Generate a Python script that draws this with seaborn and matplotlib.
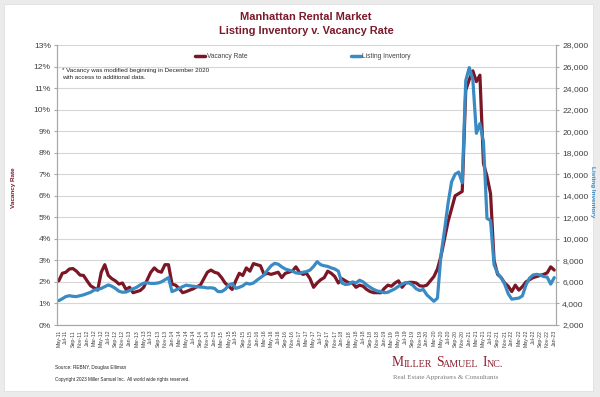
import numpy as np
import pandas as pd
import seaborn as sns
import matplotlib.pyplot as plt
from matplotlib.ticker import FuncFormatter, MultipleLocator
from matplotlib.patches import Rectangle
from matplotlib.lines import Line2D

# monthly categories May-11 .. Jan-23
months = pd.date_range("2011-05-01", "2023-01-01", freq="MS")
month_labels = [m.strftime("%b-%y") for m in months]

# vacancy rate, percent
vacancy_rate = [
    2.05, 2.40, 2.45, 2.60, 2.62, 2.50, 2.32, 2.30, 2.05, 1.82, 1.72, 1.62,
    2.45, 2.80, 2.30, 2.15, 2.05, 1.90, 1.95, 1.65, 1.75, 1.50, 1.55, 1.60,
    1.75, 2.10, 2.45, 2.65, 2.50, 2.45, 2.80, 2.80, 1.90, 1.85, 1.70, 1.50,
    1.55, 1.62, 1.68, 1.78, 1.85, 2.15, 2.45, 2.55, 2.45, 2.40, 2.20, 1.95,
    1.80, 1.65, 2.05, 2.40, 2.30, 2.65, 2.50, 2.85, 2.80, 2.75, 2.35, 2.40,
    2.35, 2.40, 2.45, 2.20, 2.40, 2.45, 2.50, 2.70, 2.45, 2.35, 2.40, 2.15,
    1.75, 1.95, 2.10, 2.20, 2.50, 2.40, 2.25, 1.95, 2.15, 2.05, 1.95, 1.95,
    1.75, 1.85, 1.80, 1.65, 1.55, 1.50, 1.50, 1.50, 1.70, 1.85, 1.80, 1.95,
    2.05, 1.75, 1.95, 1.98, 1.98, 1.95, 1.82, 1.80, 1.85, 2.05, 2.25, 2.60,
    3.20, 4.00, 4.80, 5.40, 6.00, 6.10, 6.20, 10.90, 11.40, 11.80, 11.30, 11.60,
    7.50, 6.90, 6.10, 3.00, 2.35, 2.20, 1.95, 1.80, 1.55, 1.85, 1.62, 1.78,
    2.00, 2.10, 2.20, 2.25, 2.30, 2.35, 2.42, 2.70, 2.55,
]

# listing inventory, units
listing_inventory = [
    4260, 4440, 4640, 4720, 4660, 4640, 4720, 4800, 4920, 5040, 5240, 5300,
    5400, 5560, 5720, 5600, 5400, 5140, 5040, 5060, 5200, 5360, 5500, 5720,
    5880, 5920, 5860, 5860, 5900, 6000, 6200, 6400, 5100, 5240, 5400, 5560,
    5700, 5640, 5600, 5560, 5520, 5500, 5440, 5460, 5400, 5100, 5100, 5300,
    5700, 5840, 5400, 5500, 5640, 5880, 5800, 5900, 6160, 6400, 6640, 7100,
    7500, 7720, 7650, 7400, 7200, 7100, 7000, 6840, 6800, 6900, 6960, 7100,
    7440, 7880, 7600, 7500, 7440, 7300, 7200, 7000, 5900, 5760, 5800, 6000,
    5900, 6160, 6000, 5720, 5500, 5300, 5160, 5100, 5000, 5040, 5200, 5360,
    5600, 5800, 5940, 5900, 5700, 5360, 5200, 5300, 4800, 4500, 4200, 4500,
    8500, 10800, 13300, 15300, 16000, 16200, 15200, 24700, 25900, 24800, 19800, 20700,
    19000, 11900, 11700, 7600, 6800, 6400, 5800, 4900, 4400, 4450, 4500, 4700,
    5700, 6340, 6640, 6700, 6650, 6500, 6450, 5800, 6400,
]

df = pd.DataFrame({
    "idx": np.arange(len(months)),
    "vacancy": np.array(vacancy_rate) / 100,
    "inventory": listing_inventory,
})

sns.set_style("white")
plt.rcParams["font.family"] = ["Liberation Sans", "DejaVu Sans"]

RED = "#7a1626"
BLUE = "#3a8bc3"
TXT = "#404040"
W, H = 600, 397

fig = plt.figure(figsize=(6, 3.97), dpi=100, facecolor="#ebebeb")
# white card behind everything
fig.patches.append(Rectangle((4 / W, 1 - 391 / H), 589 / W, 387 / H,
                             transform=fig.transFigure, facecolor="white",
                             edgecolor="#dcdcdc", linewidth=0.5, zorder=-5))

ax = fig.add_axes([57 / W, 1 - 325 / H, 499 / W, 280 / H])
ax2 = ax.twinx()

sns.lineplot(data=df, x="idx", y="vacancy", ax=ax, color=RED, linewidth=2.3, legend=False)
sns.lineplot(data=df, x="idx", y="inventory", ax=ax2, color=BLUE, linewidth=2.3, legend=False)

ax.set_xlim(-0.5, len(months) - 0.5)
ax.set_ylim(0, 0.13)
ax2.set_ylim(2000, 28000)
ax.yaxis.set_major_locator(MultipleLocator(0.01))
ax2.yaxis.set_major_locator(MultipleLocator(2000))
ax.yaxis.set_major_formatter(FuncFormatter(lambda v, _: f"{v * 100:.0f}%"))
ax2.yaxis.set_major_formatter(FuncFormatter(lambda v, _: f"{v:,.0f}"))

ax.set_xticks(df["idx"][::2])
ax.set_xticklabels(month_labels[::2], rotation=90, fontsize=3.8, color=TXT)

ax.yaxis.grid(True, color="#d6d6d6", linewidth=0.8)
ax.set_axisbelow(True)
ax.set_xlabel("")
ax.set_ylabel("")
ax2.set_ylabel("")

for a in (ax, ax2):
    a.spines["top"].set_visible(False)
    for s in ("left", "right", "bottom"):
        a.spines[s].set_color("#a8a8a8")
        a.spines[s].set_linewidth(0.8)
ax.tick_params(axis="y", labelsize=6.1, labelcolor=TXT, length=2.5, color="#a8a8a8", pad=2)
ax2.tick_params(axis="y", labelsize=6.1, labelcolor=TXT, length=2.5, color="#a8a8a8", pad=2)
ax.tick_params(axis="x", length=2, color="#a8a8a8", pad=1.5)

# titles and axis names
fig.text(306 / W, 1 - 17 / H, "Manhattan Rental Market", ha="center", va="center",
         fontsize=7.9, fontweight="bold", color="#7a1a2a")
fig.text(306 / W, 1 - 31 / H, "Listing Inventory v. Vacancy Rate", ha="center", va="center",
         fontsize=7.9, fontweight="bold", color="#7a1a2a")
fig.text(14 / W, 1 - 188 / H, "Vacancy Rate", rotation=90, ha="center", va="center",
         fontsize=4.6, fontweight="bold", color=RED)
fig.text(592 / W, 1 - 192 / H, "Listing Inventory", rotation=270, ha="center", va="center",
         fontsize=4.6, fontweight="bold", color=BLUE)

# legend
handles = [Line2D([], [], color=RED, linewidth=2.5), Line2D([], [], color=BLUE, linewidth=2.5)]
fig.legend(handles, ["Vacancy Rate", "Listing Inventory"], loc="center",
           bbox_to_anchor=(303 / W, 1 - 57 / H), ncol=2, frameon=False, fontsize=4.8,
           handlelength=1.5, handletextpad=0.2, columnspacing=15.5, labelcolor=TXT)

# note
fig.text(62 / W, 1 - 74 / H, "* Vacancy was modified beginning in December 2020\nwith access to additional data.",
         ha="left", va="center", fontsize=4.5, color="#222222", linespacing=1.6)

# footer
fig.text(55 / W, 1 - 367 / H, "Source: REBNY, Douglas Elliman", fontsize=3.4, color="#222222", va="center")
fig.text(55 / W, 1 - 379 / H, "Copyright 2023 Miller Samuel Inc.  All world wide rights reserved.",
         fontsize=3.3, color="#222222", va="center")

# logo in small caps
serif = ["Liberation Serif", "DejaVu Serif"]
pieces = [("M", 9.8, 0), ("ILLER", 7.2, 0), ("S", 9.8, 2.4), ("AMUEL", 7.2, 0),
          ("I", 9.8, 2.4), ("NC.", 7.2, 0)]
prev = None
for s, size, gap in pieces:
    if prev is None:
        prev = ax.annotate(s, xy=(392 / W, 1 - 369 / H), xycoords="figure fraction",
                           fontsize=size, color="#8b2232", family=serif,
                           ha="left", va="bottom", annotation_clip=False)
    else:
        prev = ax.annotate(s, xy=(1, 0), xycoords=prev, xytext=(gap, 0),
                           textcoords="offset points", fontsize=size, color="#8b2232",
                           family=serif, ha="left", va="bottom", annotation_clip=False)
fig.text(393 / W, 1 - 378 / H, "Real Estate Appraisers & Consultants", fontsize=5.0,
         color="#7a7a7a", family=serif, va="center")

fig.savefig("out.png", dpi=100, facecolor=fig.get_facecolor())
